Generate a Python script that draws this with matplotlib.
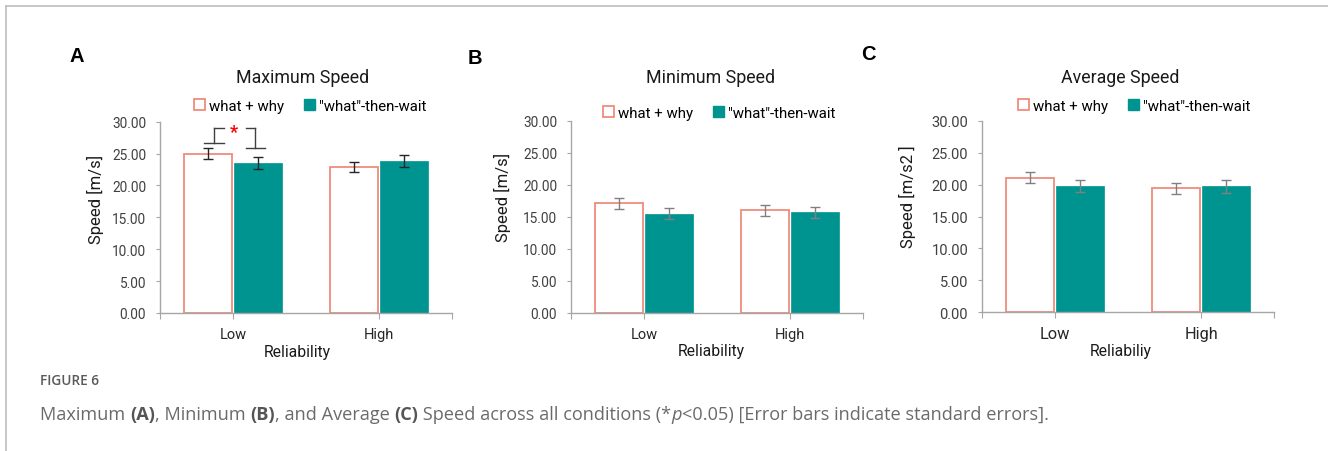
import matplotlib
matplotlib.use("Agg")
import matplotlib.pyplot as plt
from matplotlib.patches import Patch
from matplotlib.lines import Line2D
import numpy as np

# ---------------- data ----------------
categories = ["Low", "High"]
series_names = ["what + why", "\"what\"-then-wait"]

max_why = [25.0, 22.9]
max_wait = [23.5, 23.8]
max_why_err = [0.85, 0.85]
max_wait_err = [0.9, 0.95]

min_why = [17.1, 16.0]
min_wait = [15.5, 15.7]
min_why_err = [0.83, 0.85]
min_wait_err = [0.9, 0.9]

avg_why = [21.1, 19.4]
avg_wait = [19.8, 19.7]
avg_why_err = [0.83, 0.86]
avg_wait_err = [0.96, 1.0]

y_ticks = [0, 5, 10, 15, 20, 25, 30]

W, H = 1328, 452
fig = plt.figure(figsize=(W / 100, H / 100), dpi=100)

SALMON = "#EE8C7C"
TEAL = "#009490"
AXGRAY = "#A6A6A6"
TXT = "#404040"
FONT = ["Roboto", "DejaVu Sans"]


def fx(px):
    return px / W


def fy(py):
    return 1 - py / H


panels = [
    dict(left=160, right=452, top=122.7, bottom=314, why=max_why, wait=max_wait,
         why_err=max_why_err, wait_err=max_wait_err, ecolor="#262626",
         title="Maximum Speed", tpos=(303, 78), letter="A", lpos=(69, 57),
         ylabel="Speed [m/s]", ylpos=(95, 199), xlabel="Reliability", xlpos=(297, 353),
         legpos=(310, 107), tick_fs=10.5, ytick_fs=9.8),
    dict(left=571, right=863, top=121.7, bottom=314, why=min_why, wait=min_wait,
         why_err=min_why_err, wait_err=min_wait_err, ecolor="#808080",
         title="Minimum Speed", tpos=(711, 78), letter="B", lpos=(468, 58),
         ylabel="Speed [m/s]", ylpos=(502, 197), xlabel="Reliability", xlpos=(711, 352),
         legpos=(719, 114), tick_fs=10.5, ytick_fs=9.8),
    dict(left=982, right=1274, top=121.7, bottom=313.3, why=avg_why, wait=avg_wait,
         why_err=avg_why_err, wait_err=avg_wait_err, ecolor="#808080",
         title="Average Speed", tpos=(1120, 78), letter="C", lpos=(861, 55),
         ylabel="Speed [m/s2 ]", ylpos=(907, 197), xlabel="Reliabiliy", xlpos=(1121, 352),
         legpos=(1134, 107), tick_fs=11.8, ytick_fs=10.5),
]

x = np.arange(len(categories))
bw = 0.33
off = 0.17

for i, p in enumerate(panels):
    ax = fig.add_axes([fx(p["left"]), fy(p["bottom"]), fx(p["right"] - p["left"]),
                       (p["bottom"] - p["top"]) / H])
    ax.bar(x - off, p["why"], bw, facecolor="white", edgecolor=SALMON, linewidth=1.3, zorder=2)
    ax.bar(x + off, p["wait"], bw, facecolor=TEAL, edgecolor=TEAL, linewidth=0.5, zorder=2)
    ax.errorbar(x - off, p["why"], yerr=p["why_err"], fmt="none", ecolor=p["ecolor"],
                elinewidth=1.0, capsize=3.5, capthick=1.0, zorder=3)
    ax.errorbar(x + off, p["wait"], yerr=p["wait_err"], fmt="none", ecolor=p["ecolor"],
                elinewidth=1.0, capsize=3.5, capthick=1.0, zorder=3)
    ax.set_xlim(-0.5, 1.5)
    ax.set_ylim(0, 30)
    ax.set_yticks(y_ticks)
    ax.set_yticklabels([f"{v:.2f}" for v in y_ticks], fontsize=p["ytick_fs"], color=TXT,
                       family=FONT)
    ax.set_xticks(x)
    ax.set_xticklabels(categories, fontsize=p["tick_fs"], color="#262626", family=FONT)
    ax.set_xticks([-0.5, 1.5], minor=True)
    for s in ["top", "right"]:
        ax.spines[s].set_visible(False)
    for s in ["left", "bottom"]:
        ax.spines[s].set_color(AXGRAY)
        ax.spines[s].set_linewidth(1.0)
    ax.tick_params(axis="y", length=3, width=0.8, color=AXGRAY, pad=7)
    ax.tick_params(axis="x", which="both", length=4, width=0.8, color=AXGRAY, pad=6)
    ax.patch.set_alpha(0)

    fig.text(fx(p["tpos"][0]), fy(p["tpos"][1]), p["title"], ha="center", va="center",
             fontsize=12.8, color="#1a1a1a", family=FONT)
    fig.text(fx(p["lpos"][0]), fy(p["lpos"][1]), p["letter"], ha="left", va="center",
             fontsize=14.5, fontweight="bold", color="black",
             family=["Liberation Sans", "DejaVu Sans"])
    fig.text(fx(p["ylpos"][0]), fy(p["ylpos"][1]), p["ylabel"], ha="center", va="center",
             rotation=90, fontsize=12, color="#1a1a1a", family=FONT)
    fig.text(fx(p["xlpos"][0]), fy(p["xlpos"][1]), p["xlabel"], ha="center", va="center",
             fontsize=11.3, color="#1a1a1a", family=FONT)

    handles = [Patch(facecolor="white", edgecolor=SALMON, linewidth=1.3),
               Patch(facecolor=TEAL, edgecolor=TEAL)]
    fig.legend(handles, series_names, loc="center",
               bbox_to_anchor=(fx(p["legpos"][0]), fy(p["legpos"][1])), ncol=2,
               frameon=False, handlelength=0.75, handleheight=0.75, handletextpad=0.25,
               columnspacing=1.3, borderpad=0, prop=dict(family=FONT, size=10.8))

    if i == 0:
        # significance bracket between Low bars
        xl = x[0] - off
        xr = x[0] + off
        top = 29.0
        ylo_l = max_why[0] + max_why_err[0] + 0.85
        ylo_r = max_wait[0] + max_wait_err[0] + 1.5
        lc = "#404040"
        lw = 1.0
        ax.plot([xl - 0.03, xl + 0.11], [ylo_l, ylo_l], color=lc, lw=lw, clip_on=False)
        ax.plot([xl + 0.04, xl + 0.04], [ylo_l, top], color=lc, lw=lw, clip_on=False)
        ax.plot([xl + 0.04, xl + 0.11], [top, top], color=lc, lw=lw, clip_on=False)
        ax.plot([xr - 0.08, xr - 0.02], [top, top], color=lc, lw=lw, clip_on=False)
        ax.plot([xr - 0.02, xr - 0.02], [top, ylo_r], color=lc, lw=lw, clip_on=False)
        ax.plot([xr - 0.08, xr + 0.05], [ylo_r, ylo_r], color=lc, lw=lw, clip_on=False)
        ax.text(x[0] + 0.005, top - 1.45, "*", ha="center", va="baseline", color="#FF0000",
                fontsize=13, fontweight="bold", family=FONT, clip_on=False)

# frame lines
fig.add_artist(Line2D([fx(6), 1], [fy(7), fy(7)], color="#BDBDBD", lw=1.2))
fig.add_artist(Line2D([fx(6), fx(6)], [fy(7), 0], color="#BDBDBD", lw=1.2))

# caption
CAPF = ["Open Sans", "DejaVu Sans"]
CAPC = "#6a6a6a"
fig.text(fx(40), fy(381), "FIGURE 6", ha="left", va="center", fontsize=9.8,
         color="#5a5a5a", family=CAPF, fontweight="semibold")

pieces = [("Maximum ", "normal", "normal"), ("(A)", "bold", "normal"),
          (", Minimum ", "normal", "normal"), ("(B)", "bold", "normal"),
          (", and Average ", "normal", "normal"), ("(C)", "bold", "normal"),
          (" Speed across all conditions (*", "normal", "normal"),
          ("p", "normal", "italic"),
          ("<0.05) [Error bars indicate standard errors].", "normal", "normal")]
fig.canvas.draw()
renderer = fig.canvas.get_renderer()
cx = 40
for txt, wt, st in pieces:
    t = fig.text(fx(cx), fy(420), txt, ha="left", va="baseline", fontsize=13.1,
                 color="#555555" if wt == "bold" else CAPC, family=CAPF,
                 fontweight=wt, fontstyle=st)
    bb = t.get_window_extent(renderer)
    cx += bb.width

fig.savefig("out.png", dpi=100)
